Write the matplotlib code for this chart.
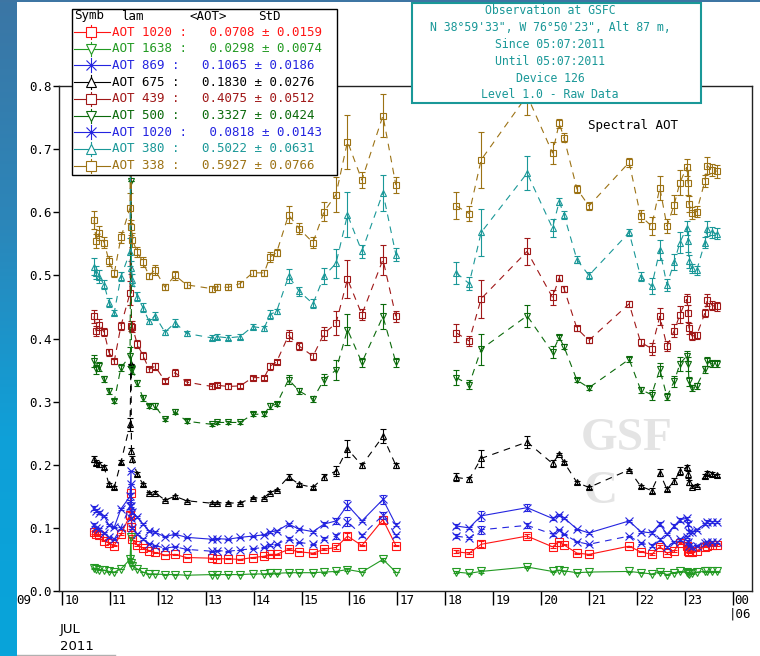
import numpy as np
import matplotlib.pyplot as plt
from matplotlib.patches import Rectangle
from matplotlib.lines import Line2D
from matplotlib.colors import LinearSegmentedColormap
from matplotlib.transforms import offset_copy

# observation times (day of July 2011), two blocks with a gap between them
t_left = [10.67, 10.71, 10.78, 10.88, 10.98, 11.09, 11.23, 11.42, 11.44, 11.45, 11.47, 11.57,
          11.69, 11.82, 11.94, 12.15, 12.36, 12.60, 13.13, 13.23, 13.47, 13.72, 13.98, 14.22,
          14.34, 14.48, 14.73, 14.95, 15.24, 15.47, 15.72, 15.96, 16.26, 16.70, 16.97]
t_right = [18.23, 18.50, 18.75, 19.71, 20.24, 20.38, 20.48, 20.75, 21.00, 21.84, 22.08, 22.31,
           22.48, 22.63, 22.78, 22.90, 23.04, 23.07, 23.09, 23.15, 23.25, 23.42, 23.47, 23.58, 23.67]

aot338_l = [0.588, 0.555, 0.567, 0.552, 0.523, 0.503, 0.560, 0.607, 1.00, 0.576, 0.556, 0.537,
            0.521, 0.499, 0.509, 0.481, 0.500, 0.485, 0.479, 0.482, 0.481, 0.487, 0.504, 0.504,
            0.529, 0.536, 0.596, 0.574, 0.552, 0.601, 0.628, 0.712, 0.651, 0.753, 0.643]
aot338_r = [0.610, 0.598, 0.683, 0.785, 0.694, 0.741, 0.718, 0.637, 0.610, 0.679, 0.594, 0.578,
            0.639, 0.578, 0.612, 0.647, 0.671, 0.647, 0.613, 0.599, 0.601, 0.649, 0.674, 0.667, 0.665]

aot380_l = [0.514, 0.504, 0.498, 0.485, 0.457, 0.441, 0.498, 0.537, 0.85, 0.512, 0.493, 0.466,
            0.449, 0.427, 0.436, 0.410, 0.425, 0.408, 0.401, 0.403, 0.401, 0.403, 0.419, 0.416,
            0.438, 0.443, 0.499, 0.475, 0.455, 0.499, 0.519, 0.596, 0.538, 0.631, 0.533]
aot380_r = [0.504, 0.487, 0.568, 0.662, 0.575, 0.617, 0.596, 0.525, 0.500, 0.568, 0.498, 0.483,
            0.540, 0.485, 0.521, 0.552, 0.575, 0.554, 0.522, 0.511, 0.508, 0.552, 0.574, 0.568, 0.566]

aot439_l = [0.435, 0.412, 0.422, 0.410, 0.378, 0.364, 0.420, 0.472, 0.75, 0.420, 0.419, 0.391,
            0.373, 0.351, 0.356, 0.333, 0.346, 0.331, 0.324, 0.326, 0.324, 0.325, 0.338, 0.338,
            0.356, 0.363, 0.405, 0.388, 0.372, 0.408, 0.424, 0.494, 0.438, 0.525, 0.435]
aot439_r = [0.409, 0.396, 0.463, 0.538, 0.465, 0.496, 0.479, 0.416, 0.397, 0.455, 0.394, 0.384,
            0.435, 0.388, 0.412, 0.438, 0.462, 0.440, 0.416, 0.404, 0.405, 0.440, 0.461, 0.452, 0.451]

aot500_l = [0.364, 0.351, 0.356, 0.336, 0.317, 0.301, 0.354, 0.372, 0.65, 0.351, 0.351, 0.330,
            0.306, 0.293, 0.293, 0.272, 0.284, 0.269, 0.264, 0.267, 0.267, 0.267, 0.280, 0.280,
            0.293, 0.296, 0.335, 0.317, 0.304, 0.335, 0.350, 0.414, 0.362, 0.435, 0.362]
aot500_r = [0.338, 0.327, 0.383, 0.436, 0.378, 0.402, 0.387, 0.334, 0.322, 0.367, 0.319, 0.311,
            0.351, 0.308, 0.332, 0.360, 0.372, 0.360, 0.332, 0.322, 0.325, 0.351, 0.364, 0.360, 0.360]

aot675_l = [0.209, 0.203, 0.201, 0.196, 0.169, 0.164, 0.204, 0.264, 0.36, 0.222, 0.209, 0.185,
            0.169, 0.155, 0.156, 0.144, 0.150, 0.143, 0.139, 0.140, 0.139, 0.140, 0.147, 0.148,
            0.156, 0.160, 0.181, 0.169, 0.164, 0.181, 0.190, 0.225, 0.199, 0.245, 0.199]
aot675_r = [0.180, 0.177, 0.210, 0.236, 0.202, 0.217, 0.204, 0.172, 0.164, 0.192, 0.166, 0.159,
            0.187, 0.161, 0.174, 0.190, 0.196, 0.185, 0.172, 0.165, 0.167, 0.182, 0.187, 0.185, 0.183]

aot869_l = [0.132, 0.127, 0.124, 0.119, 0.104, 0.101, 0.130, 0.150, 0.19, 0.135, 0.125, 0.117,
            0.106, 0.095, 0.093, 0.086, 0.090, 0.085, 0.082, 0.083, 0.082, 0.085, 0.087, 0.089,
            0.094, 0.095, 0.106, 0.098, 0.094, 0.106, 0.111, 0.136, 0.111, 0.145, 0.105]
aot869_r = [0.103, 0.100, 0.119, 0.132, 0.115, 0.120, 0.116, 0.098, 0.092, 0.111, 0.094, 0.092,
            0.106, 0.090, 0.103, 0.113, 0.115, 0.106, 0.094, 0.093, 0.097, 0.106, 0.110, 0.110, 0.110]

aot1020b_l = [0.105, 0.100, 0.098, 0.092, 0.085, 0.082, 0.100, 0.135, 0.17, 0.115, 0.100, 0.090,
              0.082, 0.075, 0.072, 0.068, 0.070, 0.066, 0.063, 0.064, 0.063, 0.065, 0.067, 0.069,
              0.073, 0.074, 0.083, 0.077, 0.074, 0.083, 0.087, 0.110, 0.088, 0.120, 0.088]
aot1020b_r = [0.087, 0.084, 0.097, 0.104, 0.090, 0.097, 0.090, 0.078, 0.074, 0.087, 0.076, 0.072,
              0.082, 0.070, 0.078, 0.082, 0.086, 0.078, 0.072, 0.069, 0.072, 0.076, 0.078, 0.078, 0.078]

aot1020_l = [0.093, 0.091, 0.089, 0.080, 0.076, 0.072, 0.090, 0.120, 0.155, 0.101, 0.082, 0.073,
             0.068, 0.064, 0.061, 0.057, 0.058, 0.053, 0.052, 0.051, 0.051, 0.050, 0.053, 0.055,
             0.058, 0.058, 0.066, 0.062, 0.060, 0.066, 0.069, 0.087, 0.072, 0.113, 0.072]
aot1020_r = [0.062, 0.060, 0.074, 0.087, 0.070, 0.078, 0.073, 0.060, 0.058, 0.071, 0.062, 0.058,
             0.070, 0.060, 0.064, 0.076, 0.072, 0.064, 0.062, 0.062, 0.064, 0.070, 0.072, 0.073, 0.073]

aot1638_l = [0.036, 0.035, 0.034, 0.033, 0.031, 0.030, 0.035, 0.050, 0.085, 0.045, 0.040, 0.035,
             0.030, 0.027, 0.027, 0.026, 0.026, 0.025, 0.026, 0.026, 0.026, 0.026, 0.027, 0.027,
             0.028, 0.028, 0.029, 0.029, 0.029, 0.030, 0.031, 0.034, 0.030, 0.050, 0.030]
aot1638_r = [0.030, 0.028, 0.031, 0.038, 0.031, 0.033, 0.032, 0.029, 0.030, 0.031, 0.029, 0.027,
             0.030, 0.026, 0.029, 0.031, 0.030, 0.029, 0.027, 0.028, 0.030, 0.031, 0.031, 0.031, 0.031]

# relative spread of the measurements at each time
rel_err_l = [0.025, 0.02, 0.02, 0.015, 0.015, 0.01, 0.015, 0.04, 0.0, 0.02, 0.02, 0.015,
             0.015, 0.01, 0.015, 0.01, 0.015, 0.01, 0.01, 0.01, 0.01, 0.01, 0.01, 0.01,
             0.015, 0.01, 0.022, 0.015, 0.015, 0.025, 0.045, 0.06, 0.02, 0.045, 0.02]
rel_err_r = [0.035, 0.02, 0.065, 0.04, 0.025, 0.01, 0.01, 0.01, 0.01, 0.01, 0.015, 0.025,
             0.03, 0.02, 0.025, 0.03, 0.02, 0.03, 0.02, 0.015, 0.015, 0.015, 0.02, 0.015, 0.015]

lam_labels = ['1020', '1638', '869', '675', '439', '500', '1020', '380', '338']
means = ['0.0708', '0.0298', '0.1065', '0.1830', '0.4075', '0.3327', '0.0818', '0.5022', '0.5927']
stds = ['0.0159', '0.0074', '0.0186', '0.0276', '0.0512', '0.0424', '0.0143', '0.0631', '0.0766']

RED = '#ff1414'
GREEN = '#229a22'
BLUE = '#2424e0'
BLACK = '#000000'
DARKRED = '#a01818'
DARKGREEN = '#0b6a0b'
TEAL = '#1a9898'
BROWN = '#9c7214'
DASH = (0, (6, 5))

series = [
    (aot1020_l, aot1020_r, RED, 's', '-', 6.0),
    (aot1638_l, aot1638_r, GREEN, 'v', '-', 5.5),
    (aot869_l, aot869_r, BLUE, 'x', '-', 6.0),
    (aot675_l, aot675_r, BLACK, '^', DASH, 5.0),
    (aot439_l, aot439_r, DARKRED, 's', DASH, 5.0),
    (aot500_l, aot500_r, DARKGREEN, 'v', DASH, 5.0),
    (aot1020b_l, aot1020b_r, BLUE, 'x', DASH, 6.0),
    (aot380_l, aot380_r, TEAL, '^', DASH, 5.0),
    (aot338_l, aot338_r, BROWN, 's', DASH, 5.0),
]

W, H = 760, 656
MONO = 'DejaVu Sans Mono'


def fx(px):
    return px / W


def fy(py):
    return 1 - py / H


fig = plt.figure(figsize=(W / 100, H / 100), dpi=100)
fig.patch.set_facecolor('white')
ax = fig.add_axes([fx(59), fy(591), fx(752) - fx(59), fy(86) - fy(591)])

t = np.array(t_left + [np.nan] + t_right)
rel = np.array(rel_err_l + [0.0] + rel_err_r)
for vl, vr, col, mk, ls, ms in series:
    v = np.array(vl + [np.nan] + vr)
    ax.errorbar(t, v, yerr=np.nan_to_num(v * rel), color=col, marker=mk, ms=ms, mfc='none',
                mec=col, mew=0.8, linestyle=ls, lw=0.8, elinewidth=0.8, capsize=2.5,
                capthick=0.8)

ax.set_xlim(9.937, 24.405)
ax.set_ylim(0, 0.8)
ax.set_xticks(range(10, 25))
ax.set_xticklabels([])
ax.set_yticks(np.arange(0, 0.81, 0.1))
ax.set_yticklabels(['%.1f' % y for y in np.arange(0, 0.81, 0.1)], family=MONO, fontsize=9)
ax.tick_params(axis='x', direction='out', length=10, width=1, color='black')
ax.tick_params(axis='y', direction='out', length=4.3, width=1, pad=1, color='black')
for s in ax.spines.values():
    s.set_linewidth(1)
    s.set_color('#222222')

trx = offset_copy(ax.get_xaxis_transform(), fig=fig, x=2, y=-3, units='dots')
for d in range(9, 24):
    ax.text(d, 0, '%02d' % d, transform=trx, ha='left', va='top', family=MONO,
            fontsize=9, clip_on=False)
ax.text(24, 0, '00', transform=trx, ha='left', va='top', family=MONO, fontsize=9, clip_on=False)
tr06 = offset_copy(ax.get_xaxis_transform(), fig=fig, x=-3.8, y=-17, units='dots')
ax.text(24, 0, '|06', transform=tr06, ha='left', va='top', family=MONO, fontsize=9,
        clip_on=False)

fig.text(fx(60), fy(630), 'JUL', family='DejaVu Sans', fontsize=9.5, va='center')
fig.text(fx(60), fy(646), '2011', family='DejaVu Sans', fontsize=9.5, va='center')
fig.add_artist(Line2D([fx(17), fx(115)], [fy(655), fy(655)], color='#b0b0b0', lw=1))

# watermark
ax.text(fx(581), fy(450), 'GSF', transform=fig.transFigure, fontsize=34,
        family='Liberation Serif', weight='bold', color='#e4e4e4', zorder=0)
ax.text(fx(584), fy(503), 'C', transform=fig.transFigure, fontsize=34,
        family='Liberation Serif', weight='bold', color='#e4e4e4', zorder=0)

fig.text(fx(588), fy(125), 'Spectral AOT', family=MONO, fontsize=9, va='center', zorder=5)

# legend box
fig.add_artist(Rectangle((fx(72), fy(175)), fx(337) - fx(72), fy(9) - fy(175),
                         transform=fig.transFigure, facecolor='white', edgecolor='black',
                         lw=1, zorder=6))
for x, s in [(74, 'Symb'), (121, 'lam'), (189, '<AOT>'), (258, 'StD')]:
    fig.text(fx(x), fy(16), s, family=MONO, fontsize=9, va='center', zorder=7)
for i, (lam, mu, sd, ser) in enumerate(zip(lam_labels, means, stds, series)):
    col, mk = ser[2], ser[3]
    yc = 32 + 16.7 * i
    fig.add_artist(Line2D([fx(74), fx(110)], [fy(yc), fy(yc)], color=col, lw=0.8, zorder=7))
    fig.add_artist(Line2D([fx(91), fx(91)], [fy(yc - 7), fy(yc + 7)], color=col, lw=0.8,
                          zorder=7))
    fig.add_artist(Line2D([fx(91)], [fy(yc)], color=col, marker=mk, ms=7, mfc='white',
                          mec=col, mew=0.8, zorder=8))
    fig.text(fx(112), fy(yc), 'AOT %s :   %s \u00b1 %s' % (lam, mu, sd), family=MONO,
             fontsize=9, color=col, va='center', zorder=7)

# observation box
fig.add_artist(Rectangle((fx(412), fy(103)), fx(701) - fx(412), fy(3) - fy(103),
                         transform=fig.transFigure, facecolor='white', edgecolor=TEAL,
                         lw=1.5, zorder=6))
info = ['Observation at GSFC', 'N 38\u00b059\'33", W 76\u00b050\'23", Alt 87 m,',
        'Since 05:07:2011', 'Until 05:07:2011', 'Device 126', 'Level 1.0 - Raw Data']
for i, s in enumerate(info):
    fig.text(fx(550), fy(11 + 16.8 * i), s, family=MONO, fontsize=8.3, color=TEAL,
             ha='center', va='center', zorder=7)

# page background around the image
side = fig.add_axes([0, 0, fx(17), 1], zorder=20)
cmap = LinearSegmentedColormap.from_list('bg', ['#3b76a5', '#2c86b9', '#0fa0d8', '#08a4da'])
side.imshow(np.linspace(0, 1, 200).reshape(-1, 1), aspect='auto', cmap=cmap,
            extent=[0, 1, 0, 1], origin='upper')
side.axis('off')
top = fig.add_axes([0, fy(2), 1, fy(0) - fy(2)], zorder=20)
top.set_facecolor('#3d75a3')
top.set_xticks([])
top.set_yticks([])
for s in top.spines.values():
    s.set_visible(False)

fig.savefig('out.png', dpi=100)
